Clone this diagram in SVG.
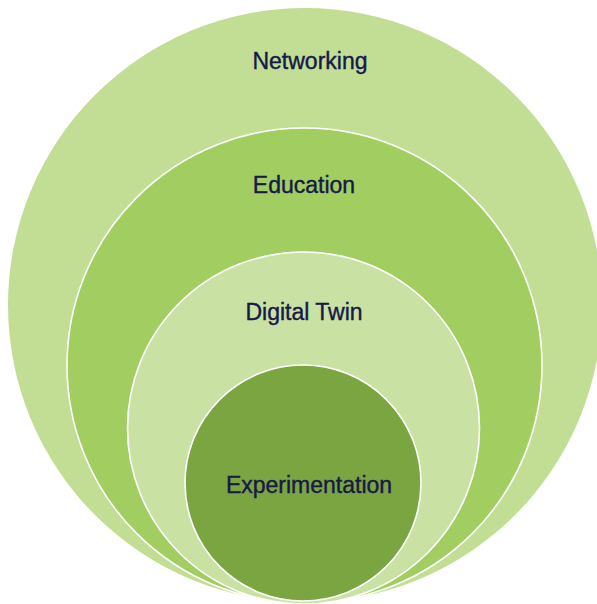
<svg xmlns="http://www.w3.org/2000/svg" width="597" height="604" viewBox="0 0 597 604">
  <style>
    .ring { stroke: #ffffff; stroke-width: 1.6; }
    .label { font-family: "Liberation Sans", Arial, sans-serif; font-size: 23px; fill: #17194a; stroke: #17194a; stroke-width: 0.4; text-anchor: middle; }
  </style>
  <rect x="0" y="0" width="597" height="604" fill="#ffffff"/>
  <!-- nested rings, all touching at the bottom edge -->
  <g id="networking">
    <circle cx="305" cy="305" r="297" fill="#c1de94"/>
    <text class="label" x="310" y="69">Networking</text>
  </g>
  <g id="education">
    <circle class="ring" cx="304.5" cy="365.5" r="237.5" fill="#a2ce61"/>
    <text class="label" x="304" y="193">Education</text>
  </g>
  <g id="digital-twin">
    <circle class="ring" cx="303.5" cy="428" r="176" fill="#c9e2a4"/>
    <text class="label" x="304" y="320">Digital Twin</text>
  </g>
  <g id="experimentation">
    <circle class="ring" cx="303" cy="483" r="118" fill="#7ba541"/>
    <text class="label" x="309" y="493">Experimentation</text>
  </g>
  <g id="connectors"/>
</svg>
